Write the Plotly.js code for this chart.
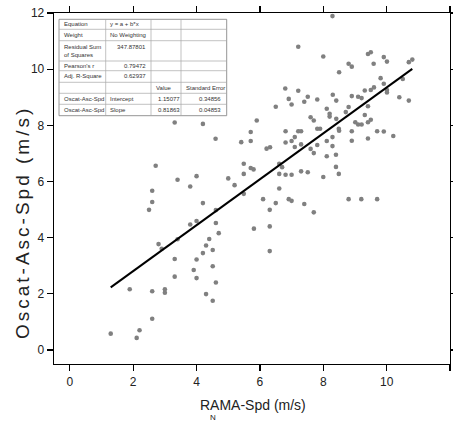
<!DOCTYPE html>
<html><head><meta charset="utf-8">
<script src="https://cdn.plot.ly/plotly-3.0.1.min.js"></script>
<style>
html,body{margin:0;padding:0;background:#fff;}
#chart{width:453px;height:423px;}
g.annotation[data-index="0"] text{letter-spacing:3px;}
</style></head><body><div id="chart"></div>
<script>
// ---- data ----
const ramaSpd = [3.31,4.20,4.60,5.41,2.71,3.40,4.00,3.80,5.00,5.20,2.60,2.60,2.50,4.20,4.61,3.80,4.00,4.61,4.70,2.80,
2.90,3.40,4.40,4.30,4.51,4.20,3.31,4.00,3.91,3.31,4.00,4.51,4.61,4.30,4.51,1.89,2.60,3.00,3.00,2.60,
1.29,2.20,2.11,5.90,5.71,5.71,6.81,6.81,7.00,7.10,7.21,7.30,6.21,6.32,7.10,7.30,7.60,7.81,7.90,7.81,
8.11,8.29,8.29,8.49,7.70,8.11,8.40,8.40,8.49,5.49,5.49,5.71,5.80,6.70,6.61,6.61,6.81,7.00,7.30,7.51,
8.00,6.61,5.49,6.10,6.50,6.91,7.00,7.40,6.31,7.70,5.81,6.31,6.31,8.29,7.21,8.00,8.50,6.80,7.21,6.91,
7.00,7.51,7.40,7.81,6.50,8.11,8.20,8.20,7.60,7.70,8.80,8.90,9.41,9.50,9.59,9.91,10.01,10.70,10.81,9.81,
9.91,10.51,10.01,10.01,9.60,9.50,9.31,10.40,10.70,8.30,8.41,8.90,9.10,9.21,8.80,9.41,8.71,8.41,9.31,9.01,
9.10,9.21,9.41,9.50,8.50,8.90,9.70,9.91,10.21,8.90,9.41,8.80,9.20,9.70];
const oscatAscSpd = [8.10,8.05,7.52,7.40,6.56,6.06,6.19,5.82,6.11,5.87,5.67,5.27,4.99,5.23,4.98,4.47,4.59,4.52,4.16,3.77,
3.60,3.94,3.95,3.72,3.56,3.45,3.24,3.22,2.85,2.61,2.56,2.98,2.40,1.99,1.75,2.16,2.09,2.16,2.04,1.11,
0.58,0.70,0.43,8.17,7.76,7.44,7.79,7.39,7.44,7.58,7.79,7.79,7.17,7.22,7.23,7.32,7.16,7.88,7.88,7.30,
7.44,7.58,7.26,7.88,7.01,6.90,6.95,6.52,6.27,6.63,6.27,6.48,6.43,6.51,6.63,6.27,6.24,6.24,6.36,6.33,
6.16,5.75,5.56,5.37,5.23,5.37,5.31,5.20,4.99,4.90,4.32,4.40,3.52,11.89,10.80,10.45,9.89,9.31,9.23,8.94,
8.74,9.02,8.84,8.92,8.66,8.59,8.41,8.31,8.29,8.17,10.19,10.09,10.54,10.60,10.19,10.43,10.27,10.25,10.34,9.68,
9.48,9.65,9.26,9.17,9.35,9.26,9.24,9.00,8.88,9.09,8.88,9.04,9.02,8.97,8.65,8.68,8.47,8.23,8.37,8.11,
8.03,8.03,8.11,8.20,7.81,7.79,7.79,7.78,7.62,7.45,7.53,5.37,5.37,5.37];
const fitX = [1.29, 10.81];
const fitY = [2.23, 10.01];
const xTickVals = [0,2,4,6,8,10,12];
const yTickVals = [0,2,4,6,8,10,12];
const xTitle = "RAMA-Spd (m/s)";
const yTitle = "Oscat-Asc-Spd (m/s)";
const footText = "N";
const tableCol1 = ["Equation","Weight","Residual Sum<br>of Squares","Pearson's r","Adj. R-Square","","Oscat-Asc-Spd","Oscat-Asc-Spd"];
const tableCol2 = ["y = a + b*x","No Weighting","347.87801","0.79472","0.62937","","Intercept","Slope"];
const tableCol3 = ["","","","","","Value","1.15077","0.81863"];
const tableCol4 = ["","","","","","Standard Error","0.34856","0.04853"];

// ---- layout helpers (pixel geometry) ----
const W=453,H=423,L=54,R=3,T=13,B=59;
const PW=W-L-R, PH=H-T-B;
const px = x => (x-L)/PW;
const py = y => (T+PH-y)/PH;
const FONT = '"Liberation Sans", Arial, sans-serif';

const colEdges=[59,105.7,151,181,226.7];
const rowEdges=[19.3,29.3,40.7,61,70.7,82.3,93.3,104.3,115.7];
const shapes=[];
shapes.push({type:'rect',xref:'paper',yref:'paper',x0:px(colEdges[0]),x1:px(colEdges[4]),y0:py(rowEdges[0]),y1:py(rowEdges[8]),
  fillcolor:'#ffffff',line:{color:'#8a8a8a',width:0.9},layer:'above'});
rowEdges.slice(1,-1).forEach(y=>shapes.push({type:'line',xref:'paper',yref:'paper',x0:px(colEdges[0]),x1:px(colEdges[4]),y0:py(y),y1:py(y),line:{color:'#a8a8a8',width:0.7},layer:'above'}));
colEdges.slice(1,-1).forEach(x=>shapes.push({type:'line',xref:'paper',yref:'paper',x0:px(x),x1:px(x),y0:py(rowEdges[0]),y1:py(rowEdges[8]),line:{color:'#a8a8a8',width:0.7},layer:'above'}));

const annotations=[];
annotations.push({text:yTitle,xref:'paper',yref:'paper',x:px(21.5),y:py(223),xanchor:'center',yanchor:'middle',
  textangle:-90,showarrow:false,font:{family:FONT,size:19,color:'#222'}});
annotations.push({text:xTitle,xref:'paper',yref:'paper',x:px(252.5),y:py(405),xanchor:'center',yanchor:'middle',
  showarrow:false,borderpad:0,font:{family:FONT,size:14,color:'#222'}});
annotations.push({text:footText,xref:'paper',yref:'paper',x:px(212.5),y:py(423),xanchor:'center',yanchor:'bottom',
  showarrow:false,borderpad:0,font:{family:FONT,size:8,color:'#222'}});

const isNum = s => /^[0-9.]+$/.test(s);
const cols=[tableCol1,tableCol2,tableCol3,tableCol4];
cols.forEach((col,ci)=>{
  col.forEach((txt,ri)=>{
    if(!txt) return;
    const top=rowEdges[ri], bot=rowEdges[ri+1];
    let yc=(top+bot)/2;
    if(ri===2 && ci>0) yc=top+6;
    let xa='left', xx=colEdges[ci]+2.6;
    if(isNum(txt) && ci!==2){ xa='right'; xx=colEdges[ci+1]-3.5; }
    if(isNum(txt) && ci===2){ xx=colEdges[ci]+4.5; }
    annotations.push({text:txt,xref:'paper',yref:'paper',x:px(xx),y:py(yc),xanchor:xa,yanchor:'middle',align:'left',
      showarrow:false,font:{family:FONT,size:6,color:'#333'}});
  });
});

const axisCommon={showgrid:false,zeroline:false,showline:true,linecolor:'#000',linewidth:1.3,mirror:'ticks',
  ticks:'outside',ticklen:6,tickwidth:1.2,tickcolor:'#000',tickfont:{family:FONT,size:12,color:'#222'}};

const data=[
 {x:ramaSpd,y:oscatAscSpd,type:'scatter',mode:'markers',marker:{color:'#808080',size:4.6},hoverinfo:'skip',showlegend:false},
 {x:fitX,y:fitY,type:'scatter',mode:'lines',line:{color:'#000',width:2},hoverinfo:'skip',showlegend:false}
];
const layout={width:W,height:H,margin:{l:L,r:R,t:T,b:B},paper_bgcolor:'#fff',plot_bgcolor:'#fff',
  xaxis:Object.assign({},axisCommon,{range:[-0.5,12],tickvals:xTickVals,ticktext:xTickVals.map(String)}),
  yaxis:Object.assign({},axisCommon,{range:[-0.5,12],tickvals:yTickVals,ticktext:yTickVals.map(String)}),
  shapes:shapes,annotations:annotations,showlegend:false};
Plotly.newPlot('chart',data,layout,{staticPlot:true,displayModeBar:false});
</script></body></html>
